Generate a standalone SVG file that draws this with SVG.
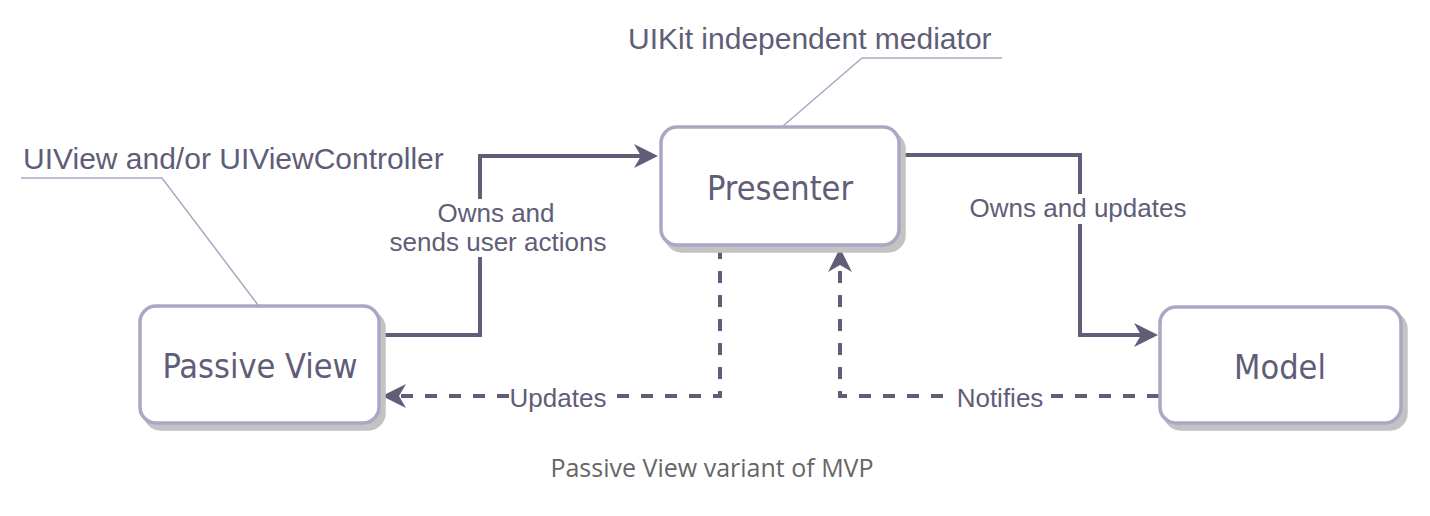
<svg xmlns="http://www.w3.org/2000/svg" width="1430" height="516" viewBox="0 0 1430 516">
<style>
.box{fill:#ffffff;stroke:#a9a8c3;stroke-width:3.5}
.shadow{fill:#c3c3c3;stroke:#c3c3c3;stroke-width:3.5}
.ntext{font-family:"DejaVu Sans Condensed","DejaVu Sans",sans-serif;font-stretch:condensed;font-size:34px;fill:#5f5d78;text-anchor:middle}
.lbl{font-family:"Liberation Sans",Arial,sans-serif;font-size:26px;fill:#5f5d78;text-anchor:middle}
.ann{font-family:"Liberation Sans",Arial,sans-serif;font-size:30px;fill:#5f5d78}
.annline{fill:none;stroke:#a9a8c3;stroke-width:1.5}
.edge{fill:none;stroke:#5f5d78;stroke-width:4}
.dash{stroke-dasharray:12 12}
.cap{font-family:"Open Sans",sans-serif;font-size:25px;fill:#666666;text-anchor:middle}
</style>
<defs>
<marker id="arr" viewBox="-25 -13 26 26" refX="-17" refY="0" markerWidth="26" markerHeight="26" markerUnits="userSpaceOnUse" orient="auto">
<path d="M0,0 L-24,-12 L-17,0 L-24,12 Z" fill="#5f5d78"/>
</marker>
</defs>
<rect width="1430" height="516" fill="#ffffff"/>

<g id="annotations">
<text class="ann" x="23" y="169">UIView and/or UIViewController</text>
<polyline class="annline" points="21,178 162,178 258,305"/>
<text class="ann" x="628" y="49">UIKit independent mediator</text>
<polyline class="annline" points="1002,58 862,58 783,126"/>
</g>

<g id="connectors">
<path class="edge" d="M380,335 H480 V156 H641" marker-end="url(#arr)"/>
<path class="edge" d="M900,155 H1080 V335 H1141" marker-end="url(#arr)"/>
<path class="edge dash" d="M720,247 V396 H399" marker-end="url(#arr)"/>
<path class="edge dash" d="M1159,396 H840 V265" marker-end="url(#arr)"/>
<rect x="434" y="199" width="124" height="58" fill="#ffffff"/>
<text class="lbl" x="496" y="222">Owns and</text>
<text class="lbl" x="498" y="251">sends user actions</text>
<rect x="1060" y="194" width="40" height="30" fill="#ffffff"/>
<text class="lbl" x="1078" y="217">Owns and updates</text>
<rect x="510" y="384" width="97" height="26" fill="#ffffff"/>
<text class="lbl" x="558" y="407">Updates</text>
<rect x="954" y="384" width="92" height="26" fill="#ffffff"/>
<text class="lbl" x="1000" y="407">Notifies</text>
</g>

<g id="passive-view">
<rect class="shadow" x="145" y="312" width="239" height="117" rx="16"/>
<rect class="box" x="140" y="306" width="239" height="117" rx="16"/>
<text class="ntext" x="260" y="378">Passive View</text>
</g>

<g id="presenter">
<rect class="shadow" x="666" y="133" width="238" height="118" rx="16"/>
<rect class="box" x="661" y="127" width="238" height="118" rx="16"/>
<text class="ntext" x="780" y="200">Presenter</text>
</g>

<g id="model">
<rect class="shadow" x="1165" y="313" width="241" height="116" rx="16"/>
<rect class="box" x="1160" y="307" width="241" height="116" rx="16"/>
<text class="ntext" x="1280" y="379">Model</text>
</g>

<text class="cap" x="712" y="477">Passive View variant of MVP</text>
</svg>
